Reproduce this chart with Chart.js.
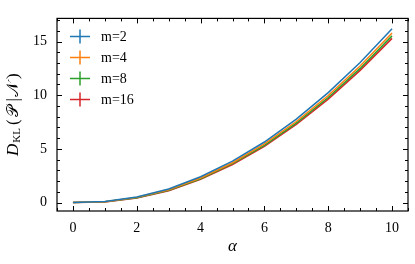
<!DOCTYPE html>
<html>
<head>
<meta charset="utf-8">
<script src="https://cdn.jsdelivr.net/npm/chart.js@4.4.0/dist/chart.umd.min.js"></script>
<style>
    html, body { margin: 0; padding: 0; background: #fff; }
    #wrap { width: 415px; height: 264px; }
</style>
</head>
<body>
<div id="wrap"><canvas id="klChart"></canvas></div>
<script>
// Values
const alphaValues = [0, 1, 2, 3, 4, 5, 6, 7, 8, 9, 10];
const seriesLabels = ['m=2', 'm=4', 'm=8', 'm=16'];
const klM2  = [0, 0.09, 0.52, 1.26, 2.40, 3.85, 5.64, 7.77, 10.24, 13.05, 16.20];
const klM4  = [0, 0.08, 0.48, 1.19, 2.29, 3.71, 5.46, 7.55, 9.97, 12.73, 15.80];
const klM8  = [0, 0.07, 0.45, 1.14, 2.22, 3.62, 5.33, 7.40, 9.79, 12.50, 15.53];
const klM16 = [0, 0.06, 0.42, 1.10, 2.16, 3.54, 5.23, 7.28, 9.64, 12.32, 15.30];
const xTickValues = [0, 2, 4, 6, 8, 10];
const yTickValues = [0, 5, 10, 15];

const seriesColors = ['#1f77b4', '#ff7f0e', '#2ca02c', '#d62728'];
const serif = "'Liberation Serif', 'DejaVu Serif', serif";

const toPoints = (ys) => ys.map((y, i) => ({ x: alphaValues[i], y: y }));
const allSeries = [klM2, klM4, klM8, klM16];

// Frame plus inward ticks on all four sides (matplotlib style)
const frameTicks = {
    id: 'frameTicks',
    afterDraw(chart) {
        const { ctx, chartArea: a, scales } = chart;
        const xs = scales.x, ys = scales.y;
        ctx.save();
        ctx.strokeStyle = '#000';
        ctx.lineWidth = 1;
        const tick = (x1, y1, x2, y2) => {
            ctx.beginPath(); ctx.moveTo(x1, y1); ctx.lineTo(x2, y2); ctx.stroke();
        };
        for (let v = -0.5; v <= 10.5; v += 0.5) {
            const px = Math.round(xs.getPixelForValue(v)) + 0.5;
            const len = (v % 2 === 0) ? 5 : 3;
            tick(px, a.bottom, px, a.bottom - len);
            tick(px, a.top, px, a.top + len);
        }
        for (let v = 0; v <= 17; v += 1) {
            const py = Math.round(ys.getPixelForValue(v)) + 0.5;
            const len = (v % 5 === 0) ? 5 : 3;
            tick(a.left, py, a.left + len, py);
            tick(a.right, py, a.right - len, py);
        }
        ctx.lineWidth = 1.2;
        ctx.strokeRect(a.left, a.top, a.right - a.left, a.bottom - a.top);
        ctx.restore();
    }
};

// Legend with errorbar-style "+" markers, and the axis titles
const labelsPlugin = {
    id: 'labelsPlugin',
    afterDraw(chart) {
        const { ctx, chartArea: a } = chart;
        ctx.save();
        chart.data.datasets.forEach((ds, i) => {
            const cx = a.left + 23, cy = a.top + 18 + i * 21;
            ctx.strokeStyle = ds.borderColor;
            ctx.lineWidth = 1.5;
            ctx.beginPath();
            ctx.moveTo(cx - 10, cy); ctx.lineTo(cx + 10, cy);
            ctx.moveTo(cx, cy - 7); ctx.lineTo(cx, cy + 7);
            ctx.stroke();
            ctx.fillStyle = '#000';
            ctx.font = '14px ' + serif;
            ctx.textBaseline = 'middle';
            ctx.fillText(ds.label, a.left + 44, cy + 1);
        });

        // x title
        ctx.fillStyle = '#000';
        ctx.textAlign = 'center';
        ctx.textBaseline = 'middle';
        ctx.font = 'italic 17px ' + serif;
        ctx.fillText('α', (a.left + a.right) / 2, 247);

        // y title: D_KL(𝒫|𝒩), extra gaps because the script glyphs overhang
        const parts = [
            { t: 'D', f: 'italic 17px ' + serif, dy: 0, gap: 0 },
            { t: 'KL', f: '11px ' + serif, dy: 3, gap: 1 },
            { t: '(', f: '17px ' + serif, dy: 0, gap: 3 },
            { t: '𝒫', f: '16px ' + serif, dy: 0, gap: 2 },
            { t: '|', f: '17px ' + serif, dy: 0, gap: 4 },
            { t: '𝒩', f: '16px ' + serif, dy: 0, gap: 1 },
            { t: ')', f: '17px ' + serif, dy: 0, gap: 3 }
        ];
        let total = 0;
        parts.forEach(p => { ctx.font = p.f; p.w = ctx.measureText(p.t).width; total += p.w + p.gap; });
        ctx.translate(14, (a.top + a.bottom) / 2);
        ctx.rotate(-Math.PI / 2);
        ctx.textAlign = 'left';
        ctx.textBaseline = 'middle';
        let x = -total / 2;
        parts.forEach(p => { ctx.font = p.f; x += p.gap; ctx.fillText(p.t, x, p.dy); x += p.w; });
        ctx.restore();
    }
};

new Chart(document.getElementById('klChart'), {
    type: 'line',
    data: {
        datasets: allSeries.map((ys, i) => ({
            label: seriesLabels[i],
            data: toPoints(ys),
            borderColor: seriesColors[i],
            backgroundColor: seriesColors[i],
            borderWidth: 1.5,
            pointRadius: 0,
            tension: 0,
            fill: false
        }))
    },
    options: {
        responsive: true,
        maintainAspectRatio: false,
        animation: false,
        layout: { padding: { top: 7, right: 7, left: 0, bottom: 0 } },
        plugins: {
            legend: { display: false },
            tooltip: { enabled: false }
        },
        scales: {
            x: {
                type: 'linear',
                min: -0.5,
                max: 10.5,
                afterBuildTicks: (scale) => { scale.ticks = xTickValues.map(v => ({ value: v })); },
                afterFit: (scale) => { scale.height = 53; },
                grid: { display: false, drawTicks: false },
                border: { display: false },
                ticks: { color: '#000', padding: 9, font: { family: serif, size: 14 } }
            },
            y: {
                type: 'linear',
                min: -0.79,
                max: 17.16,
                afterBuildTicks: (scale) => { scale.ticks = yTickValues.map(v => ({ value: v })); },
                afterFit: (scale) => { scale.width = 57; },
                grid: { display: false, drawTicks: false },
                border: { display: false },
                ticks: { color: '#000', padding: 10, font: { family: serif, size: 14 } }
            }
        }
    },
    plugins: [frameTicks, labelsPlugin]
});
</script>
</body>
</html>
